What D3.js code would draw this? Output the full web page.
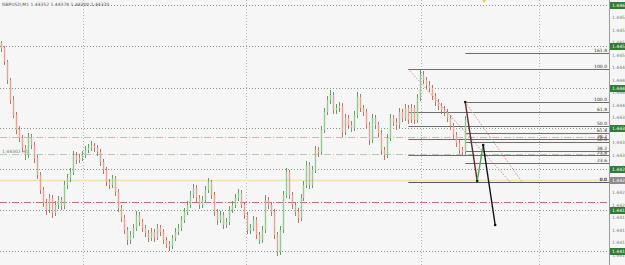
<!DOCTYPE html>
<html>
<head>
<meta charset="utf-8">
<script src="https://cdn.jsdelivr.net/npm/d3@7"></script>
<style>
  body { margin: 0; background: #f6f6f6; }
  svg { display: block; font-family: "DejaVu Sans", sans-serif; }
</style>
</head>
<body>
<div id="chart"></div>
<script>
// chart header
const symbolTitle = "GBPUSD,M1  1.44352 1.44378 1.44300 1.44370";

// M1 candles, one per bar index (open = previous close)
const firstOpen = 1.44524;
const closes = [
  1.44514,1.44486,1.44450,1.44410,1.44380,1.44350,1.44334,1.44314,1.44300,1.44336,
  1.44320,1.44294,1.44260,1.44230,1.44204,1.44190,1.44214,1.44184,1.44200,1.44210,
  1.44198,1.44240,1.44254,1.44266,1.44300,1.44290,1.44294,1.44300,1.44310,1.44314,
  1.44318,1.44314,1.44306,1.44286,1.44270,1.44246,1.44240,1.44254,1.44226,1.44194,
  1.44174,1.44150,1.44130,1.44140,1.44154,1.44180,1.44166,1.44154,1.44144,1.44134,
  1.44146,1.44134,1.44154,1.44146,1.44130,1.44122,1.44118,1.44134,1.44146,1.44154,
  1.44170,1.44186,1.44200,1.44220,1.44234,1.44214,1.44200,1.44210,1.44230,1.44246,
  1.44220,1.44186,1.44170,1.44180,1.44160,1.44166,1.44190,1.44200,1.44214,1.44224,
  1.44200,1.44180,1.44150,1.44154,1.44170,1.44140,1.44130,1.44150,1.44210,1.44200,
  1.44186,1.44140,1.44106,1.44150,1.44220,1.44266,1.44220,1.44200,1.44186,1.44174,
  1.44214,1.44240,1.44280,1.44240,1.44270,1.44310,1.44306,1.44350,1.44386,1.44410,
  1.44420,1.44390,1.44394,1.44398,1.44346,1.44374,1.44360,1.44354,1.44380,1.44416,
  1.44394,1.44386,1.44360,1.44330,1.44374,1.44360,1.44344,1.44310,1.44300,1.44334,
  1.44374,1.44366,1.44360,1.44386,1.44374,1.44394,1.44370,1.44394,1.44370,1.44414,
  1.44460,1.44450,1.44440,1.44434,1.44418,1.44406,1.44398,1.44390,1.44386,1.44374,
  1.44358,1.44340,1.44324,1.44310,1.44306,1.44370
];
const highs = [
  1.44528,1.44518,1.44490,1.44454,1.44418,1.44386,1.44358,1.44340,1.44320,1.44344,
  1.44342,1.44326,1.44300,1.44266,1.44236,1.44212,1.44222,1.44220,1.44208,1.44218,
  1.44216,1.44248,1.44262,1.44274,1.44308,1.44306,1.44302,1.44308,1.44318,1.44322,
  1.44328,1.44324,1.44320,1.44312,1.44292,1.44276,1.44252,1.44260,1.44258,1.44232,
  1.44200,1.44180,1.44156,1.44148,1.44162,1.44188,1.44186,1.44172,1.44160,1.44150,
  1.44154,1.44152,1.44162,1.44160,1.44152,1.44136,1.44128,1.44140,1.44154,1.44162,
  1.44178,1.44194,1.44208,1.44228,1.44242,1.44240,1.44220,1.44218,1.44238,1.44254,
  1.44250,1.44226,1.44192,1.44188,1.44186,1.44174,1.44198,1.44208,1.44222,1.44232,
  1.44230,1.44206,1.44186,1.44162,1.44178,1.44176,1.44146,1.44158,1.44220,1.44216,
  1.44206,1.44192,1.44146,1.44158,1.44228,1.44274,1.44270,1.44226,1.44206,1.44194,
  1.44222,1.44248,1.44288,1.44286,1.44278,1.44318,1.44316,1.44358,1.44394,1.44418,
  1.44430,1.44426,1.44402,1.44406,1.44404,1.44382,1.44380,1.44368,1.44388,1.44426,
  1.44422,1.44400,1.44392,1.44366,1.44382,1.44380,1.44366,1.44350,1.44316,1.44342,
  1.44382,1.44380,1.44374,1.44394,1.44392,1.44402,1.44400,1.44402,1.44400,1.44422,
  1.44470,1.44468,1.44456,1.44448,1.44440,1.44424,1.44412,1.44404,1.44398,1.44392,
  1.44380,1.44364,1.44346,1.44330,1.44316,1.44378
];
const lows = [
  1.44506,1.44480,1.44442,1.44402,1.44374,1.44342,1.44326,1.44306,1.44290,1.44294,
  1.44312,1.44284,1.44252,1.44222,1.44196,1.44180,1.44184,1.44174,1.44178,1.44192,
  1.44190,1.44192,1.44232,1.44246,1.44260,1.44282,1.44284,1.44288,1.44294,1.44304,
  1.44308,1.44306,1.44298,1.44278,1.44262,1.44238,1.44232,1.44234,1.44218,1.44186,
  1.44166,1.44142,1.44120,1.44122,1.44134,1.44148,1.44158,1.44146,1.44136,1.44126,
  1.44128,1.44126,1.44130,1.44138,1.44122,1.44114,1.44108,1.44112,1.44128,1.44140,
  1.44148,1.44164,1.44180,1.44194,1.44214,1.44206,1.44192,1.44194,1.44204,1.44224,
  1.44212,1.44178,1.44160,1.44164,1.44152,1.44154,1.44160,1.44184,1.44194,1.44208,
  1.44194,1.44172,1.44142,1.44142,1.44148,1.44132,1.44122,1.44124,1.44144,1.44192,
  1.44178,1.44132,1.44098,1.44100,1.44144,1.44214,1.44212,1.44192,1.44178,1.44164,
  1.44168,1.44208,1.44234,1.44232,1.44234,1.44264,1.44296,1.44300,1.44344,1.44380,
  1.44402,1.44382,1.44382,1.44386,1.44336,1.44340,1.44352,1.44346,1.44348,1.44374,
  1.44386,1.44378,1.44352,1.44320,1.44324,1.44352,1.44336,1.44300,1.44290,1.44294,
  1.44328,1.44358,1.44350,1.44354,1.44366,1.44368,1.44362,1.44364,1.44362,1.44364,
  1.44408,1.44442,1.44432,1.44426,1.44410,1.44398,1.44390,1.44382,1.44378,1.44366,
  1.44350,1.44332,1.44316,1.44302,1.44298,1.44300
];

// horizontal lines drawn on the chart (dotted, labelled on the price axis)
const gridPrices = [1.44600, 1.44518, 1.44434, 1.44354, 1.44272, 1.44190, 1.44108];
// period separators, in bar units
const separators = [27.3, 81.7, 140.3, 179.7];
// coloured horizontal levels
const levelPrices = [1.44336, 1.44302, 1.44250, 1.44206];
const levelColors = ["#e8acac", "#a8d2a8", "#f0e2a8", "#c87070"];
const levelDash = ["7,2,1,2", "7,2,1,2", null, "7,2,1,2"];
const levelLabel = "1.44302 H1";
const bidPrice = 1.44250;

// fibonacci retracements
const fibRatios = [0, 23.6, 38.2, 50, 61.8, 100, 161.8];
const fibStart = [136, 155];
const fibEnd = [170, 174];
const fibHigh = [1.44472, 1.44406];
const fibLow = [1.44246, 1.44246];

// projected swing path
const pathBars = [155, 159, 161, 165];
const pathPrices = [1.44406, 1.44248, 1.44320, 1.44160];
const pathColors = ["#5a2a2a", "#5aa05a", "#111"];
const shiftBar = 161.3;

const W = 625, H = 265, plotRight = 609;

const svg = d3.select("#chart").append("svg")
  .attr("width", W).attr("height", H);

svg.append("rect").attr("width", W).attr("height", H).attr("fill", "#f6f6f6");

const x = d3.scaleLinear().domain([-1 / 3, 202.67]).range([0, 608]);
const y = d3.scaleLinear().domain([1.44080, 1.44610]).range([265, 0]);

svg.append("clipPath").attr("id", "plot")
  .append("rect").attr("width", plotRight).attr("height", H);
const g = svg.append("g").attr("clip-path", "url(#plot)");

// separators
g.selectAll(".sep").data(separators).join("line")
  .attr("x1", d => Math.round(x(d)) + 0.5).attr("x2", d => Math.round(x(d)) + 0.5)
  .attr("y1", 0).attr("y2", H)
  .attr("stroke", "#b4b4b4").attr("stroke-dasharray", "1,2");

// grid levels
g.selectAll(".grid").data(gridPrices).join("line")
  .attr("x1", 0).attr("x2", plotRight)
  .attr("y1", d => Math.round(y(d)) + 0.5).attr("y2", d => Math.round(y(d)) + 0.5)
  .attr("stroke", "#7f977f").attr("stroke-dasharray", "1,2");

// coloured levels
g.selectAll(".lvl").data(levelPrices).join("line")
  .attr("x1", 0).attr("x2", plotRight)
  .attr("y1", d => Math.round(y(d)) + 0.5).attr("y2", d => Math.round(y(d)) + 0.5)
  .attr("stroke", (d, i) => levelColors[i])
  .attr("stroke-width", (d, i) => levelDash[i] ? 1 : 1.5)
  .attr("stroke-dasharray", (d, i) => levelDash[i]);

g.append("text").attr("x", 2).attr("y", y(levelPrices[1]) - 1.5)
  .attr("font-size", 4.5).attr("fill", "#777").text(levelLabel);

// fibonacci levels
fibStart.forEach((s, k) => {
  const range = fibHigh[k] - fibLow[k];
  g.append("line")
    .attr("x1", x(s)).attr("y1", y(fibHigh[k]))
    .attr("x2", x(fibEnd[k])).attr("y2", y(fibLow[k]))
    .attr("stroke", "#e08a8a").attr("stroke-dasharray", "1.5,1.5");
  fibRatios.forEach(r => {
    const p = fibLow[k] + range * r / 100;
    const yy = Math.round(y(p)) + 0.5;
    if (yy < 3) return;
    g.append("line")
      .attr("x1", x(s)).attr("x2", plotRight)
      .attr("y1", yy).attr("y2", yy)
      .attr("stroke", r === 0 ? "#555" : "#6d6d6d");
    g.append("text")
      .attr("x", plotRight - 2).attr("y", yy - 1.5)
      .attr("text-anchor", "end").attr("font-size", 4.5).attr("fill", "#333")
      .text(r.toFixed(1));
  });
});

// candles
const bars = closes.map((c, i) => ({
  i, o: i === 0 ? firstOpen : closes[i - 1], c, h: highs[i], l: lows[i]
}));
const candle = g.selectAll(".bar").data(bars).join("g");
candle.append("line")
  .attr("x1", d => Math.round(x(d.i)) + 0.5).attr("x2", d => Math.round(x(d.i)) + 0.5)
  .attr("y1", d => y(d.h)).attr("y2", d => y(d.l))
  .attr("stroke", d => d.c >= d.o ? "#6a9a6a" : "#b07a6a");
candle.append("rect")
  .attr("x", d => Math.round(x(d.i)) - 0.2).attr("width", 1.4)
  .attr("y", d => y(Math.max(d.o, d.c)))
  .attr("height", d => Math.max(1, Math.abs(y(d.o) - y(d.c))))
  .attr("fill", d => d.c >= d.o ? "#98c898" : "#e2a696");

// projection path
pathBars.slice(1).forEach((b, k) => {
  g.append("line")
    .attr("x1", x(pathBars[k])).attr("y1", y(pathPrices[k]))
    .attr("x2", x(b)).attr("y2", y(pathPrices[k + 1]))
    .attr("stroke", pathColors[k]).attr("stroke-width", 1.4);
});
g.selectAll(".pt").data(pathBars).join("circle")
  .attr("cx", d => x(d)).attr("cy", (d, i) => y(pathPrices[i]))
  .attr("r", 1.3).attr("fill", "#111");

// title
svg.append("rect").attr("x", 0).attr("y", 0).attr("width", 70).attr("height", 8).attr("fill", "#f6f6f6");
svg.append("text").attr("x", 2).attr("y", 6)
  .attr("font-size", 4.5).attr("fill", "#555").text(symbolTitle);

// shift marker
svg.append("path")
  .attr("d", `M${x(shiftBar) - 2},0 L${x(shiftBar) + 2},0 L${x(shiftBar)},3 Z`)
  .attr("fill", "#e8d060");

// price axis
svg.append("line").attr("x1", plotRight + 0.5).attr("x2", plotRight + 0.5)
  .attr("y1", 0).attr("y2", H).attr("stroke", "#9a9a9a");

const ticks = d3.range(1.44100, 1.44626, 0.00025);
svg.selectAll(".tick").data(ticks).join("text")
  .attr("x", plotRight + 3).attr("y", d => y(d) + 1.5)
  .attr("font-size", 4.5).attr("fill", "#777")
  .text(d => d3.format(".5f")(d));

const boxes = gridPrices.map(p => ({ p, fill: "#2e7d32" }))
  .concat([{ p: bidPrice, fill: "#8c8c8c" }]);
const box = svg.selectAll(".box").data(boxes).join("g")
  .attr("transform", d => `translate(${plotRight + 1},${Math.round(y(d.p)) - 3})`);
box.append("rect").attr("width", 16).attr("height", 7).attr("fill", d => d.fill);
box.append("text").attr("x", 2).attr("y", 5)
  .attr("font-size", 4.5).attr("fill", "#fff")
  .text(d => d3.format(".5f")(d.p));
</script>
</body>
</html>
